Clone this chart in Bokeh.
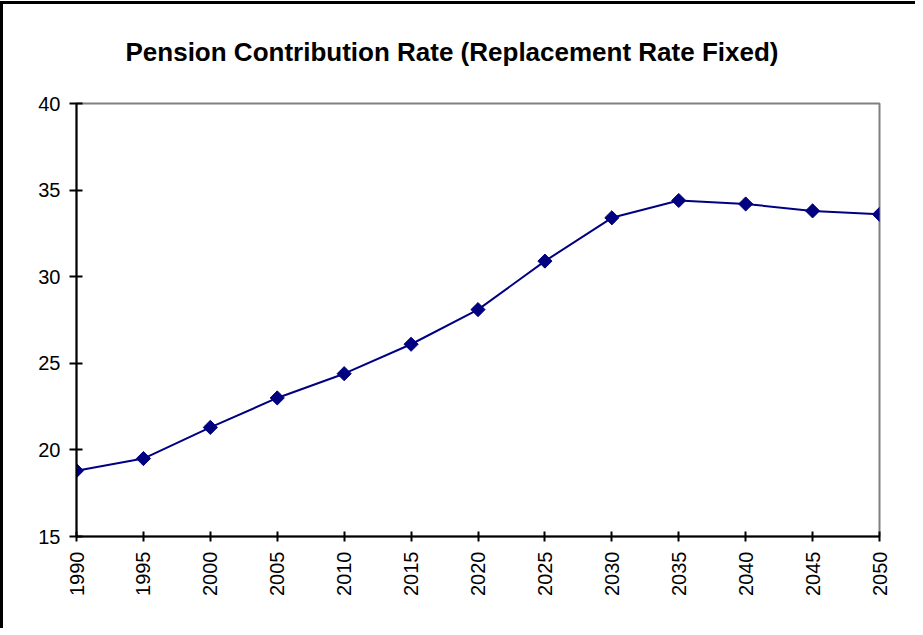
import numpy as np
from bokeh.plotting import figure
from bokeh.models import ColumnDataSource, Title, Range1d, FixedTicker
from bokeh.embed import file_html
from bokeh.resources import INLINE

years = [1990, 1995, 2000, 2005, 2010, 2015, 2020, 2025, 2030, 2035, 2040, 2045, 2050]
rates = [18.8, 19.5, 21.3, 23.0, 24.4, 26.1, 28.1, 30.9, 33.4, 34.4, 34.2, 33.8, 33.6]
y_ticks = [15, 20, 25, 30, 35, 40]
title_text = "Pension Contribution Rate (Replacement Rate Fixed)"

FONT = "Liberation Sans"
NAVY = "#000080"

src = ColumnDataSource(dict(x=years, y=rates))

W, H = 915, 627
p = figure(width=W, height=H, output_backend="svg", toolbar_location=None,
           x_range=Range1d(1990, 2050), y_range=Range1d(15, 40),
           min_border_left=73, min_border_top=99, min_border_right=39, min_border_bottom=95,
           styles={"border-left": "3px solid black", "border-top": "3px solid black",
                   "box-sizing": "border-box", "margin-top": "1px"})
p.background_fill_color = "white"
p.border_fill_color = "white"
p.grid.visible = False
p.outline_line_color = "#808080"
p.outline_line_width = 2

p.line("x", "y", source=src, line_color=NAVY, line_width=2)
p.scatter("x", "y", source=src, marker="square", angle=np.pi / 4, size=10,
          fill_color=NAVY, line_color=NAVY)

for ax in (p.xaxis[0], p.yaxis[0]):
    ax.axis_line_color = "black"
    ax.axis_line_width = 2
    ax.major_tick_line_color = "black"
    ax.major_tick_line_width = 2
    ax.minor_tick_line_color = None
    ax.major_label_text_font = FONT
    ax.major_label_text_font_size = "20px"
    ax.major_label_text_color = "black"

p.xaxis.ticker = FixedTicker(ticks=years)
p.xaxis.major_label_orientation = np.pi / 2
p.xaxis.major_tick_in = 5
p.xaxis.major_tick_out = 5
p.xaxis.major_label_standoff = 10

p.yaxis.ticker = FixedTicker(ticks=y_ticks)
p.yaxis.major_tick_in = 6
p.yaxis.major_tick_out = 7
p.yaxis.major_label_standoff = 9

# empty spacer between frame and title
spacer = Title(text=" ", text_font=FONT, text_font_size="18px")
p.add_layout(spacer, "above")

title = Title(text=title_text, align="left", offset=49,
              text_font=FONT, text_font_size="26px", text_font_style="bold",
              text_color="black")
p.add_layout(title, "above")

open("out.html", "w").write(file_html(p, INLINE))
